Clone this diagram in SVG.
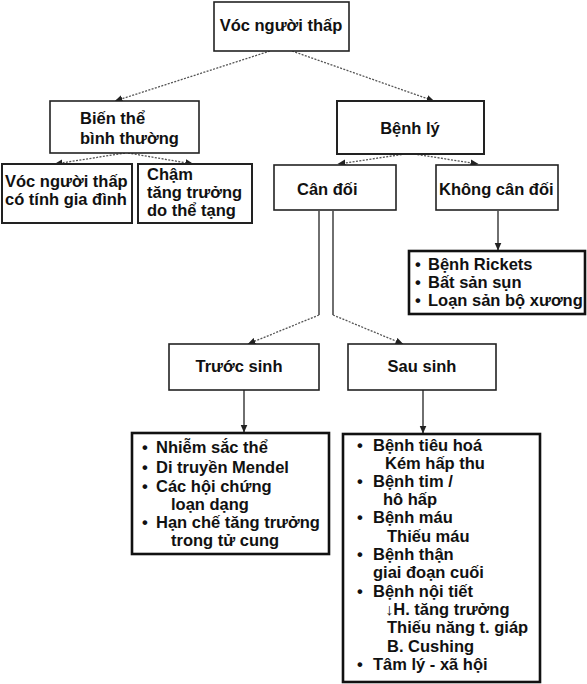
<svg xmlns="http://www.w3.org/2000/svg" width="587" height="684" viewBox="0 0 587 684">
<style>
text{font-family:"Liberation Sans",Arial,sans-serif;font-weight:bold;font-size:16.5px;fill:#111}
.box{fill:#fff;stroke:#222;stroke-width:1.6}
.thick{fill:#fff;stroke:#111;stroke-width:2.6}
.dot{fill:none;stroke:#555;stroke-width:1.3;stroke-dasharray:2 1.4}
.sol{fill:none;stroke:#333;stroke-width:1.4}
</style>
<defs>
<marker id="ah" viewBox="0 0 8 8" refX="7.5" refY="4" markerWidth="8" markerHeight="8" markerUnits="userSpaceOnUse" orient="auto">
<path d="M0,0.5 L8,4 L0,7.5 Z" fill="#222"/>
</marker>
</defs>
<rect width="587" height="684" fill="#fff"/>
<g id="connectors">
<line class="dot" x1="270" y1="51" x2="115" y2="101" marker-end="url(#ah)"/>
<line class="dot" x1="292" y1="51" x2="434" y2="101" marker-end="url(#ah)"/>
<line class="dot" x1="125" y1="153" x2="55" y2="164" marker-end="url(#ah)"/>
<line class="dot" x1="128" y1="153" x2="193" y2="164" marker-end="url(#ah)"/>
<line class="dot" x1="405" y1="154" x2="338" y2="164" marker-end="url(#ah)"/>
<line class="dot" x1="414" y1="154" x2="478" y2="164" marker-end="url(#ah)"/>
<line class="sol" x1="498" y1="211" x2="498" y2="250" marker-end="url(#ah)"/>
<line class="sol" x1="319" y1="211" x2="319" y2="315"/>
<line class="dot" x1="319" y1="315" x2="248" y2="344" marker-end="url(#ah)"/>
<line class="sol" x1="333" y1="211" x2="333" y2="315"/>
<line class="dot" x1="333" y1="315" x2="403" y2="344" marker-end="url(#ah)"/>
<line class="sol" x1="244" y1="390" x2="244" y2="432" marker-end="url(#ah)"/>
<line class="sol" x1="423" y1="390" x2="423" y2="433" marker-end="url(#ah)"/>
</g>
<g id="root">
<rect class="box" x="214" y="2" width="135" height="49"/>
<text x="281" y="31" text-anchor="middle">Vóc người thấp</text>
</g>
<g id="bien-the">
<rect class="box" x="50" y="101" width="149" height="52"/>
<text x="80" y="124">Biến thể</text>
<text x="80" y="144">bình thường</text>
</g>
<g id="benh-ly">
<rect class="box" x="337" y="101" width="147" height="53" style="stroke-width:2"/>
<text x="410" y="134" text-anchor="middle">Bệnh lý</text>
</g>
<g id="gia-dinh">
<rect class="box" x="2" y="164" width="130" height="59" style="stroke-width:2"/>
<text x="5" y="187">Vóc người thấp</text>
<text x="5" y="205">có tính gia đình</text>
</g>
<g id="cham-tang-truong">
<rect class="box" x="138" y="164" width="114" height="59" style="stroke-width:2"/>
<text x="147" y="180">Chậm</text>
<text x="147" y="198">tăng trưởng</text>
<text x="147" y="216">do thể tạng</text>
</g>
<g id="can-doi">
<rect class="box" x="274" y="165" width="122" height="45"/>
<text x="297" y="195">Cân đối</text>
</g>
<g id="khong-can-doi">
<rect class="box" x="436" y="165" width="122" height="45"/>
<text x="439" y="195">Không cân đối</text>
</g>
<g id="rickets">
<rect class="thick" x="409" y="251" width="176" height="63"/>
<text><tspan x="415" y="270">•</tspan><tspan x="428" y="270">Bệnh Rickets</tspan></text>
<text><tspan x="415" y="288">•</tspan><tspan x="428" y="288">Bất sản sụn</tspan></text>
<text><tspan x="415" y="306">•</tspan><tspan x="428" y="306">Loạn sản bộ xương</tspan></text>
</g>
<g id="truoc-sinh">
<rect class="box" x="169" y="344" width="150" height="46"/>
<text x="239" y="372" text-anchor="middle">Trước sinh</text>
</g>
<g id="sau-sinh">
<rect class="box" x="348" y="344" width="148" height="46"/>
<text x="422" y="372" text-anchor="middle">Sau sinh</text>
</g>
<g id="truoc-sinh-list">
<rect class="thick" x="132" y="433" width="197" height="121"/>
<text><tspan x="142" y="453">•</tspan><tspan x="156" y="453">Nhiễm sắc thể</tspan></text>
<text><tspan x="142" y="473">•</tspan><tspan x="156" y="473">Di truyền Mendel</tspan></text>
<text><tspan x="142" y="492">•</tspan><tspan x="156" y="492">Các hội chứng</tspan></text>
<text x="171" y="510">loạn dạng</text>
<text><tspan x="142" y="528">•</tspan><tspan x="156" y="528">Hạn chế tăng trưởng</tspan></text>
<text x="171" y="546">trong tử cung</text>
</g>
<g id="sau-sinh-list">
<rect class="thick" x="343" y="434" width="197" height="248"/>
<text><tspan x="357" y="451">•</tspan><tspan x="373" y="451">Bệnh tiêu hoá</tspan></text>
<text x="385" y="469">Kém hấp thu</text>
<text><tspan x="357" y="487">•</tspan><tspan x="373" y="487">Bệnh tim /</tspan></text>
<text x="383" y="505">hô hấp</text>
<text><tspan x="357" y="523">•</tspan><tspan x="373" y="523">Bệnh máu</tspan></text>
<text x="387" y="542">Thiếu máu</text>
<text><tspan x="357" y="560">•</tspan><tspan x="373" y="560">Bệnh thận</tspan></text>
<text x="373" y="578">giai đoạn cuối</text>
<text><tspan x="357" y="597">•</tspan><tspan x="373" y="597">Bệnh nội tiết</tspan></text>
<text x="385" y="615">↓H. tăng trưởng</text>
<text x="387" y="633">Thiếu năng t. giáp</text>
<text x="387" y="652">B. Cushing</text>
<text><tspan x="357" y="670">•</tspan><tspan x="373" y="670">Tâm lý - xã hội</tspan></text>
</g>
</svg>
